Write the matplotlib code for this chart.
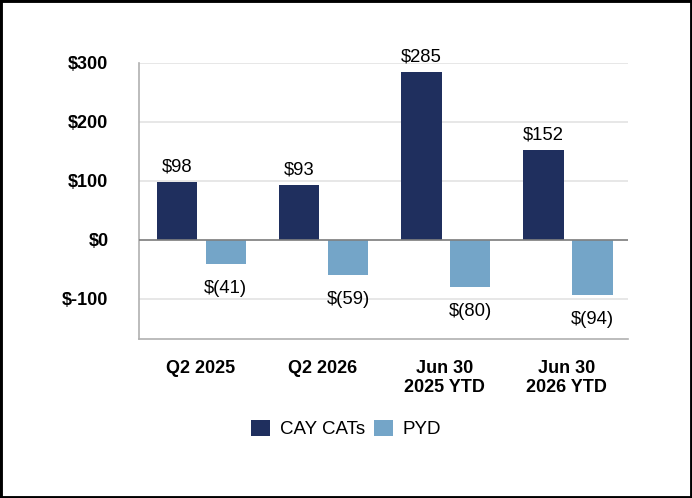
import matplotlib.pyplot as plt
import numpy as np
from matplotlib.patches import Rectangle

categories = ["Q2 2025", "Q2 2026", "Jun 30\n2025 YTD", "Jun 30\n2026 YTD"]
cay_cats = [98, 93, 285, 152]
pyd = [-41, -59, -80, -94]
cay_labels = ["$98", "$93", "$285", "$152"]
pyd_labels = ["$(41)", "$(59)", "$(80)", "$(94)"]
yticks = [-100, 0, 100, 200, 300]
ytick_labels = ["$-100", "$0", "$100", "$200", "$300"]

dark = "#1f2f5e"
light = "#74a5c8"

plt.rcParams['font.family'] = ['Liberation Sans', 'DejaVu Sans']

fig = plt.figure(figsize=(6.92, 4.98), dpi=100)
ax = fig.add_axes([139 / 692, 1 - 339 / 498, 489 / 692, 276 / 498])

x = np.arange(len(categories))
w = 0.33
ax.bar(x - 0.19, cay_cats, w, color=dark, label="CAY CATs", zorder=3)
ax.bar(x + 0.21, pyd, w, color=light, label="PYD", zorder=3)

for i in range(len(categories)):
    ax.text(x[i] - 0.19, cay_cats[i] + 11, cay_labels[i], ha="center", va="bottom", fontsize=13.3)
    ax.text(x[i] + 0.21, pyd[i] - 27, pyd_labels[i], ha="center", va="top", fontsize=13.3)

ax.set_xlim(-0.5, 3.5)
ax.set_ylim(-168, 300)
ax.set_yticks(yticks)
ax.set_yticklabels(ytick_labels, fontsize=13, fontweight="bold")
ax.set_xticks(x)
ax.set_xticklabels(categories, fontsize=13, fontweight="bold", linespacing=1.15, va="top")
ax.tick_params(axis="y", length=0, pad=22)
ax.tick_params(axis="x", length=0, pad=15)

ax.grid(axis="y", color="#e3e3e3", linewidth=1.2, zorder=0)
ax.axhline(0, color="#808080", linewidth=1.2, zorder=4)
for s in ["top", "right"]:
    ax.spines[s].set_visible(False)
for s in ["left", "bottom"]:
    ax.spines[s].set_color("#b0b0b0")
    ax.spines[s].set_linewidth(1.2)

fig.legend(loc="center", bbox_to_anchor=(346 / 692, 1 - 429 / 498), ncol=2, frameon=False,
           fontsize=13.5, handlelength=1.0, handleheight=1.0, handletextpad=0.5, columnspacing=0.5)

fig.patches.append(Rectangle((0, 0), 1, 1, transform=fig.transFigure, fill=False,
                             edgecolor="black", linewidth=3.5))

fig.savefig("out.png", dpi=100)
